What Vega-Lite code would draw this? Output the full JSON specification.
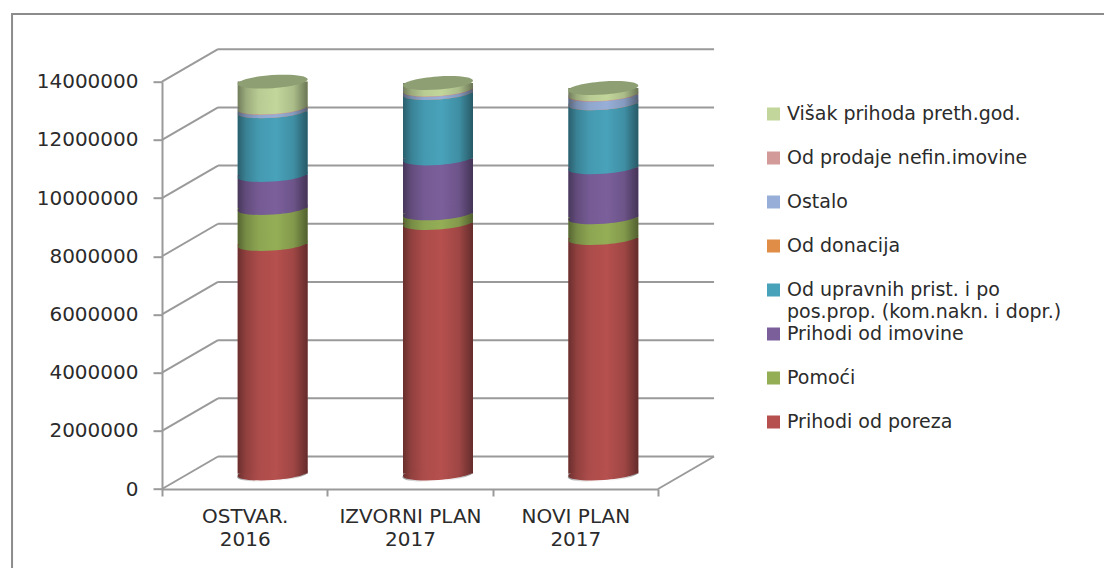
{
"$schema":"https://vega.github.io/schema/vega-lite/v6.json",
"width":496,"height":407.3,
"autosize":{"type":"none"},
"padding":{"left":162,"top":81.7,"right":446,"bottom":79},
"background":"white",
"config":{"view":{"stroke":null},"font":"DejaVu Sans"},
"datasets":{
"ticks":[{"v":0},{"v":2000000},{"v":4000000},{"v":6000000},{"v":8000000},{"v":10000000},{"v":12000000},{"v":14000000}],
"segments":[
{"category":"OSTVAR. 2016","series":"Prihodi od poreza","start":0,"end":7889000},
{"category":"OSTVAR. 2016","series":"Pomoći","start":7889000,"end":9126000},
{"category":"OSTVAR. 2016","series":"Prihodi od imovine","start":9126000,"end":10260000},
{"category":"OSTVAR. 2016","series":"Od upravnih prist. i po pos.prop. (kom.nakn. i dopr.)","start":10260000,"end":12450000},
{"category":"OSTVAR. 2016","series":"Od donacija","start":12450000,"end":12450000},
{"category":"OSTVAR. 2016","series":"Ostalo","start":12450000,"end":12560000},
{"category":"OSTVAR. 2016","series":"Od prodaje nefin.imovine","start":12560000,"end":12580000},
{"category":"OSTVAR. 2016","series":"Višak prihoda preth.god.","start":12580000,"end":13470000},
{"category":"IZVORNI PLAN 2017","series":"Prihodi od poreza","start":0,"end":8610000},
{"category":"IZVORNI PLAN 2017","series":"Pomoći","start":8610000,"end":8940000},
{"category":"IZVORNI PLAN 2017","series":"Prihodi od imovine","start":8940000,"end":10830000},
{"category":"IZVORNI PLAN 2017","series":"Od upravnih prist. i po pos.prop. (kom.nakn. i dopr.)","start":10830000,"end":13080000},
{"category":"IZVORNI PLAN 2017","series":"Od donacija","start":13080000,"end":13080000},
{"category":"IZVORNI PLAN 2017","series":"Ostalo","start":13080000,"end":13180000},
{"category":"IZVORNI PLAN 2017","series":"Od prodaje nefin.imovine","start":13180000,"end":13200000},
{"category":"IZVORNI PLAN 2017","series":"Višak prihoda preth.god.","start":13200000,"end":13420000},
{"category":"NOVI PLAN 2017","series":"Prihodi od poreza","start":0,"end":8095000},
{"category":"NOVI PLAN 2017","series":"Pomoći","start":8095000,"end":8806000},
{"category":"NOVI PLAN 2017","series":"Prihodi od imovine","start":8806000,"end":10525000},
{"category":"NOVI PLAN 2017","series":"Od upravnih prist. i po pos.prop. (kom.nakn. i dopr.)","start":10525000,"end":12725000},
{"category":"NOVI PLAN 2017","series":"Od donacija","start":12725000,"end":12725000},
{"category":"NOVI PLAN 2017","series":"Ostalo","start":12725000,"end":13020000},
{"category":"NOVI PLAN 2017","series":"Od prodaje nefin.imovine","start":13020000,"end":13040000},
{"category":"NOVI PLAN 2017","series":"Višak prihoda preth.god.","start":13040000,"end":13250000}
],
"totals":[
{"category":"OSTVAR. 2016","total":13470000},
{"category":"IZVORNI PLAN 2017","total":13420000},
{"category":"NOVI PLAN 2017","total":13250000}
]
},
"resolve":{"scale":{"x":"independent"},"axis":{"x":"independent"}},
"layer":[
{"layer":[
{"data":{"values":[{"frame":"outer"}]},
 "mark":{"type":"rect","fill":null,"stroke":"#8c8c8c","strokeWidth":2},
 "encoding":{
  "x":{"datum":-0.907,"type":"quantitative","scale":{"domain":[0,3]},"axis":null},
  "x2":{"datum":6.2},
  "y":{"datum":16327000,"type":"quantitative","scale":{"domain":[0,14000000],"nice":false}},
  "y2":{"datum":-3000000}
 }},
{"data":{"name":"ticks"},
 "mark":{"type":"rule","stroke":"#9a9a9a","strokeWidth":2,"y2Offset":-32.5},
 "encoding":{
  "x":{"datum":0,"type":"quantitative","scale":{"domain":[0,3]},"axis":null},
  "x2":{"datum":0.339},
  "y":{"field":"v","type":"quantitative"},
  "y2":{"field":"v"}
 }},
{"data":{"name":"ticks"},
 "mark":{"type":"rule","stroke":"#9a9a9a","strokeWidth":2,"yOffset":-32.5},
 "encoding":{
  "x":{"datum":0.339,"type":"quantitative","scale":{"domain":[0,3]},"axis":null},
  "x2":{"datum":3.339},
  "y":{"field":"v","type":"quantitative"}
 }},
{"data":{"values":[{"v":0}]},
 "mark":{"type":"rule","stroke":"#9a9a9a","strokeWidth":2,"y2Offset":-32.5},
 "encoding":{
  "x":{"datum":3,"type":"quantitative","scale":{"domain":[0,3]},"axis":null},
  "x2":{"datum":3.339},
  "y":{"field":"v","type":"quantitative"},
  "y2":{"field":"v"}
 }},
{"data":{"values":[{"line":"pos.prop. (kom.nakn. i dopr.)"}]},
 "mark":{"type":"text","align":"left","baseline":"middle","fontSize":19,"font":"DejaVu Sans","color":"#2b2b2b"},
 "encoding":{
  "x":{"datum":3.78,"type":"quantitative","scale":{"domain":[0,3]},"axis":null},
  "y":{"datum":6101000,"type":"quantitative"},
  "text":{"field":"line"}
 }}
]},
{"layer":[
{"data":{"name":"segments"},
 "mark":{"type":"bar","size":70,"xOffset":28,"yOffset":-15.5,"y2Offset":-15.5,"opacity":1},
 "encoding":{
  "x":{"field":"category","type":"nominal","sort":null,"title":null,
   "scale":{"domain":["OSTVAR. 2016","IZVORNI PLAN 2017","NOVI PLAN 2017"],"paddingInner":0,"paddingOuter":0},
   "axis":{"title":null,"tickBand":"extent","tickSize":7,"tickWidth":2,"tickColor":"#9a9a9a","domainColor":"#9a9a9a","domainWidth":2,"labelAngle":0,"labelFontSize":20,"labelColor":"#2b2b2b","labelPadding":10,"labelLineHeight":23.5,"labelLimit":300,"labelOverlap":false,"labelFont":"DejaVu Sans","labelExpr":"[slice(datum.label,0,-5),slice(datum.label,-4)]"}},
  "y":{"field":"start","type":"quantitative","title":null,"scale":{"domain":[0,14000000],"nice":false},
   "axis":{"title":null,"values":[0,2000000,4000000,6000000,8000000,10000000,12000000,14000000],"grid":false,"format":"d","tickSize":9,"tickWidth":2,"tickColor":"#9a9a9a","domainColor":"#9a9a9a","domainWidth":2,"labelFontSize":20,"labelColor":"#2b2b2b","labelPadding":15,"labelFont":"DejaVu Sans"}},
  "y2":{"field":"end"},
  "color":{"field":"series","type":"nominal","title":null,
   "scale":{"domain":["Višak prihoda preth.god.","Od prodaje nefin.imovine","Ostalo","Od donacija","Od upravnih prist. i po pos.prop. (kom.nakn. i dopr.)","Prihodi od imovine","Pomoći","Prihodi od poreza"],
    "range":["#C2D69B","#D39A9A","#97AFD8","#E08E47","#48A2BA","#7B5F9B","#94AE56","#B5504E"]},
   "legend":{"orient":"none","legendX":602,"legendY":10.5,"padding":0,"title":null,"symbolType":"square","symbolSize":169,"symbolStrokeWidth":0,"symbolOpacity":1,"labelFontSize":19,"labelColor":"#2b2b2b","labelFont":"DejaVu Sans","labelOffset":4,"labelLimit":400,"clipHeight":43.8,"rowPadding":0,
    "labelExpr":"datum.label==='Od upravnih prist. i po pos.prop. (kom.nakn. i dopr.)'?'Od upravnih prist. i po':datum.label"}
  }
 }},
{"data":{"name":"segments"},
 "mark":{"type":"point","filled":true,"opacity":1,"size":4900,"xOffset":28,"yOffset":-15.5,"shape":"M-1,0.07 A1,0.186 -4 1 0 1,-0.07 A1,0.186 -4 1 0 -1,0.07 Z"},
 "encoding":{
  "x":{"field":"category","type":"nominal","sort":null},
  "y":{"field":"start","type":"quantitative"},
  "color":{"field":"series","type":"nominal"}
 }},
{"data":{"name":"totals"},
 "mark":{"type":"bar","size":70,"xOffset":28,"yOffset":-15.5,"y2Offset":-15.5,
  "fill":{"x1":0,"y1":0,"x2":1,"y2":0,"gradient":"linear","stops":[{"offset":0,"color":"rgba(0,0,0,0.42)"},{"offset":0.12,"color":"rgba(0,0,0,0.2)"},{"offset":0.3,"color":"rgba(0,0,0,0.05)"},{"offset":0.55,"color":"rgba(0,0,0,0)"},{"offset":0.8,"color":"rgba(0,0,0,0.12)"},{"offset":1,"color":"rgba(0,0,0,0.45)"}]}},
 "encoding":{
  "x":{"field":"category","type":"nominal","sort":null},
  "y":{"field":"total","type":"quantitative"},
  "y2":{"datum":0}
 }},
{"data":{"name":"totals"},
 "mark":{"type":"point","filled":true,"opacity":1,"size":4900,"xOffset":28,"yOffset":-15.5,"shape":"M-1,0 L-1,0.07 A1,0.186 -4 0 0 0.98,0 Z",
  "fill":{"x1":0,"y1":0,"x2":1,"y2":0,"gradient":"linear","stops":[{"offset":0,"color":"rgba(0,0,0,0.42)"},{"offset":0.12,"color":"rgba(0,0,0,0.2)"},{"offset":0.3,"color":"rgba(0,0,0,0.05)"},{"offset":0.55,"color":"rgba(0,0,0,0)"},{"offset":0.8,"color":"rgba(0,0,0,0.12)"},{"offset":1,"color":"rgba(0,0,0,0.45)"}]}},
 "encoding":{
  "x":{"field":"category","type":"nominal","sort":null},
  "y":{"datum":0,"type":"quantitative"}
 }},
{"data":{"name":"totals"},
 "mark":{"type":"point","filled":true,"opacity":1,"size":4900,"xOffset":28,"yOffset":-15.5,"color":"#8D9F73","shape":"M-1,0.07 A1,0.186 -4 1 0 1,-0.07 A1,0.186 -4 1 0 -1,0.07 Z"},
 "encoding":{
  "x":{"field":"category","type":"nominal","sort":null},
  "y":{"field":"total","type":"quantitative"}
 }}
]}
]
}
